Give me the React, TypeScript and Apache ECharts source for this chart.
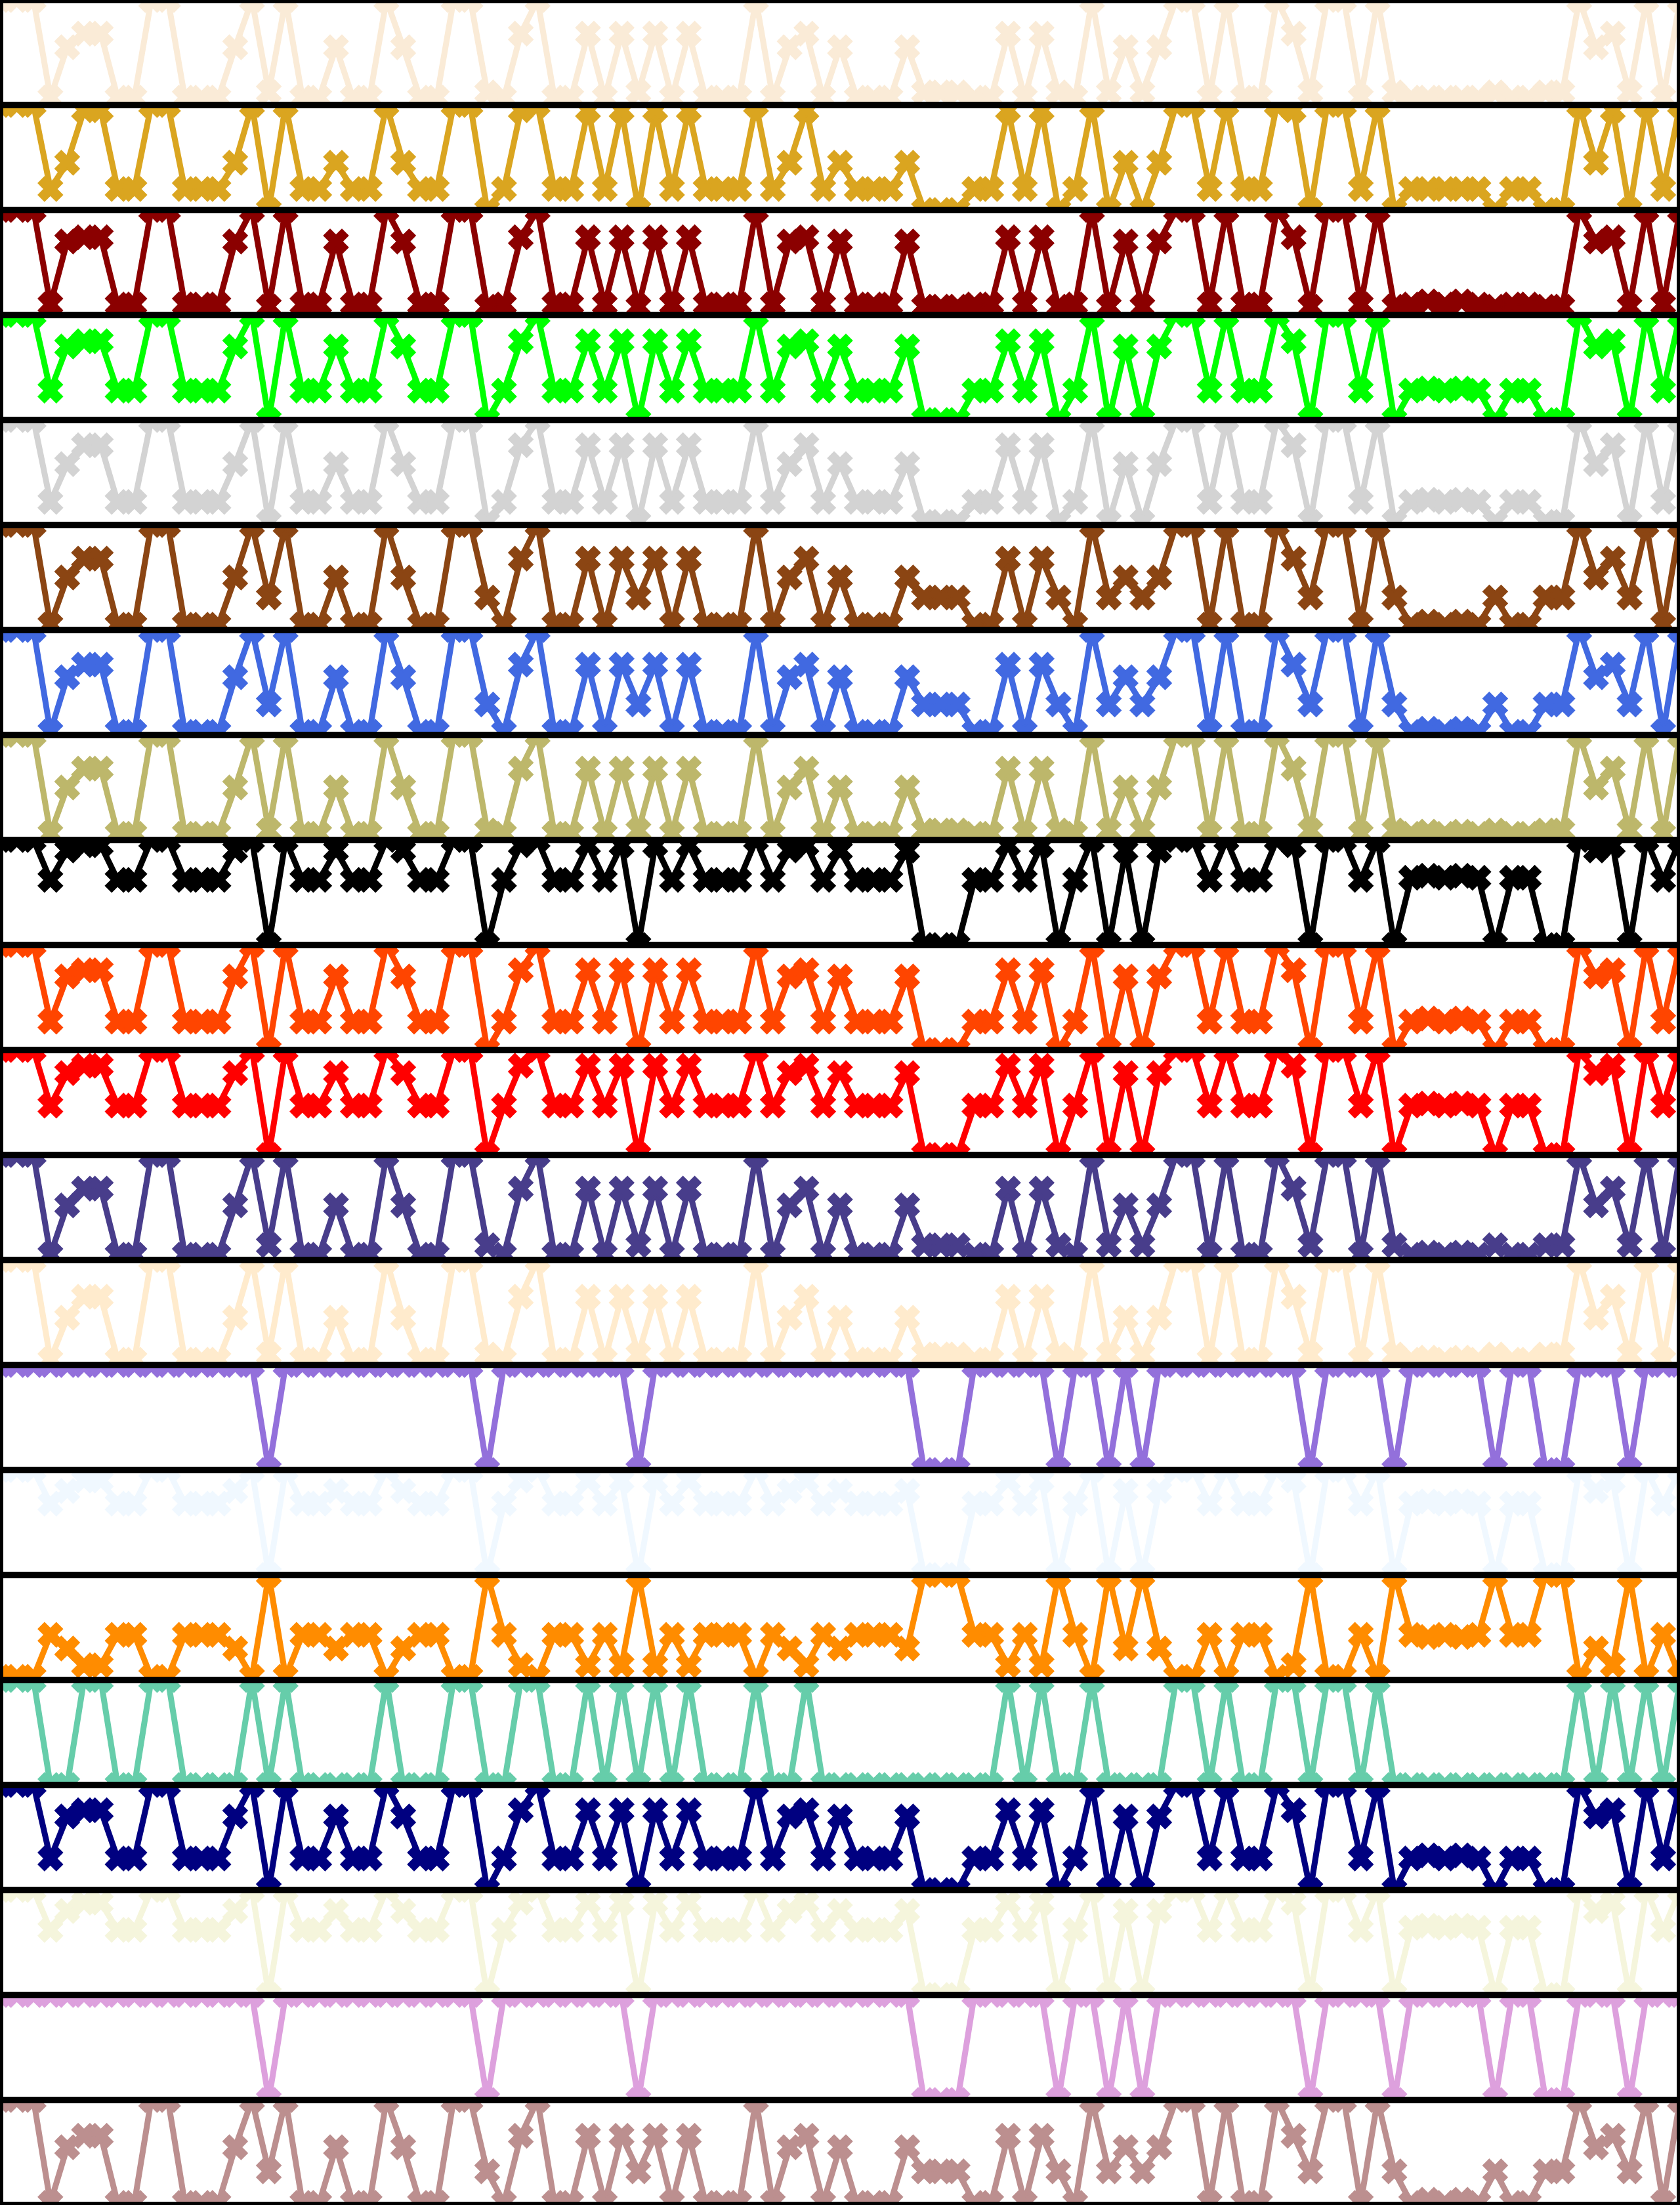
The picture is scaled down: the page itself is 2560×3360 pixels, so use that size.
import React, { useEffect, useRef } from "react";
import * as echarts from "echarts";

const X_INDEX = Array.from({ length: 101 }, (_, i) => i);

const COLORS = [
  "#FAEBD7", "#DAA520", "#8B0000", "#00FF00", "#D3D3D3", "#8B4513", "#4169E1",
  "#BDB76B", "#000000", "#FF4500", "#FF0000", "#483D8B", "#FFEBCD", "#9370DB",
  "#F0F8FF", "#FF8C00", "#66CDAA", "#000080", "#F5F5DC", "#DDA0DD", "#BC8F8F",
];

const s01 = [1,1,1,.07,.55,.68,.68,.07,.07,1, 1,.07,.07,.07,.55,1,.12,1,.07,.07, .55,.07,.07,1,.55,.07,.07,1,1,.12, .07,.68,1,.07,.07,.68,.07,.68,.12,.68, .07,.68,.07,.07,.07,1,.07,.55,.68,.07, .55,.07,.07,.07,.55,.12,.12,.12,.07,.07, .68,.07,.68,.12,.07,1,.12,.55,.12,.55, 1,1,.07,1,.07,.07,1,.68,.12,1, 1,.07,1,.12,.07,.07,.07,.07,.07,.12, .07,.07,.12,.12,1,.55,.68,.12,1,.07,1];
const s02 = [1,1,1,.2,.45,.95,.95,.2,.2,1, 1,.2,.2,.2,.45,1,0,1,.2,.2, .45,.2,.2,1,.45,.2,.2,1,1,0, .2,.95,1,.2,.2,.95,.2,.95,0,.95, .2,.95,.2,.2,.2,1,.2,.45,.95,.2, .45,.2,.2,.2,.45,0,0,0,.2,.2, .95,.2,.95,0,.2,1,0,.45,0,.45, 1,1,.2,1,.2,.2,1,.95,0,1, 1,.2,1,0,.2,.2,.2,.2,.2,0, .2,.2,0,0,1,.45,.95,0,1,.2,1];
const s03 = [1,1,1,.1,.7,.74,.74,.1,.1,1, 1,.1,.1,.1,.7,1,.08,1,.1,.1, .7,.1,.1,1,.7,.1,.1,1,1,.08, .1,.74,1,.1,.1,.74,.1,.74,.08,.74, .1,.74,.1,.1,.1,1,.1,.7,.74,.1, .7,.1,.1,.1,.7,.08,.08,.08,.1,.1, .74,.1,.74,.08,.1,1,.08,.7,.08,.7, 1,1,.1,1,.1,.1,1,.74,.08,1, 1,.1,1,.08,.1,.13,.1,.13,.1,.08, .1,.1,.08,.08,1,.7,.74,.08,1,.1,1];
const s04 = [1,1,1,.28,.7,.75,.75,.28,.28,1, 1,.28,.28,.28,.7,1,0,1,.28,.28, .7,.28,.28,1,.7,.28,.28,1,1,0, .28,.75,1,.28,.28,.75,.28,.75,0,.75, .28,.75,.28,.28,.28,1,.28,.7,.75,.28, .7,.28,.28,.28,.7,0,0,0,.28,.28, .75,.28,.75,0,.28,1,0,.7,0,.7, 1,1,.28,1,.28,.28,1,.75,0,1, 1,.28,1,0,.28,.3,.28,.3,.28,0, .28,.28,0,0,1,.7,.75,0,1,.28,1];
const s05 = [1,1,1,.22,.58,.76,.76,.22,.22,1, 1,.22,.22,.22,.58,1,.03,1,.22,.22, .58,.22,.22,1,.58,.22,.22,1,1,.03, .22,.76,1,.22,.22,.76,.22,.76,.03,.76, .22,.76,.22,.22,.22,1,.22,.58,.76,.22, .58,.22,.22,.22,.58,.03,.03,.03,.22,.22, .76,.22,.76,.03,.22,1,.03,.58,.03,.58, 1,1,.22,1,.22,.22,1,.76,.03,1, 1,.22,1,.03,.22,.24,.22,.24,.22,.03, .22,.22,.03,.03,1,.58,.76,.03,1,.22,1];
const s06 = [1,1,1,.05,.5,.68,.68,.05,.05,1, 1,.05,.05,.05,.5,1,.31,1,.05,.05, .5,.05,.05,1,.5,.05,.05,1,1,.31, .05,.68,1,.05,.05,.68,.05,.68,.31,.68, .05,.68,.05,.05,.05,1,.05,.5,.68,.05, .5,.05,.05,.05,.5,.31,.31,.31,.05,.05, .68,.05,.68,.31,.05,1,.31,.5,.31,.5, 1,1,.05,1,.05,.05,1,.68,.31,1, 1,.05,1,.31,.05,.08,.05,.08,.05,.31, .05,.05,.31,.31,1,.5,.68,.31,1,.05,1];
const s07 = [1,1,1,.03,.55,.67,.67,.03,.03,1, 1,.03,.03,.03,.55,1,.29,1,.03,.03, .55,.03,.03,1,.55,.03,.03,1,1,.29, .03,.67,1,.03,.03,.67,.03,.67,.29,.67, .03,.67,.03,.03,.03,1,.03,.55,.67,.03, .55,.03,.03,.03,.55,.29,.29,.29,.03,.03, .67,.03,.67,.29,.03,1,.29,.55,.29,.55, 1,1,.03,1,.03,.03,1,.67,.29,1, 1,.03,1,.29,.03,.06,.03,.06,.03,.29, .03,.03,.29,.29,1,.55,.67,.29,1,.03,1];
const s08 = [1,1,1,.06,.5,.68,.68,.06,.06,1, 1,.06,.06,.06,.5,1,.09,1,.06,.06, .5,.06,.06,1,.5,.06,.06,1,1,.09, .06,.68,1,.06,.06,.68,.06,.68,.09,.68, .06,.68,.06,.06,.06,1,.06,.5,.68,.06, .5,.06,.06,.06,.5,.09,.09,.09,.06,.06, .68,.06,.68,.09,.06,1,.09,.5,.09,.5, 1,1,.06,1,.06,.06,1,.68,.09,1, 1,.06,1,.09,.06,.08,.06,.08,.06,.09, .06,.06,.09,.09,1,.5,.68,.09,1,.06,1];
const s09 = [1,1,1,.62,.9,.95,.95,.62,.62,1, 1,.62,.62,.62,.9,1,0,1,.62,.62, .9,.62,.62,1,.9,.62,.62,1,1,0, .62,.95,1,.62,.62,.95,.62,.95,0,.95, .62,.95,.62,.62,.62,1,.62,.9,.95,.62, .9,.62,.62,.62,.9,0,0,0,.62,.62, .95,.62,.95,0,.62,1,0,.9,0,.9, 1,1,.62,1,.62,.62,1,.95,0,1, 1,.62,1,0,.64,.66,.64,.66,.64,0, .64,.64,0,0,1,.9,.95,0,1,.62,1];
const s10 = [1,1,1,.27,.7,.76,.76,.27,.27,1, 1,.27,.27,.27,.7,1,0,1,.27,.27, .7,.27,.27,1,.7,.27,.27,1,1,0, .27,.76,1,.27,.27,.76,.27,.76,0,.76, .27,.76,.27,.27,.27,1,.27,.7,.76,.27, .7,.27,.27,.27,.7,0,0,0,.27,.27, .76,.27,.76,0,.27,1,0,.7,0,.7, 1,1,.27,1,.27,.27,1,.76,0,1, 1,.27,1,0,.27,.3,.27,.3,.27,0, .27,.27,0,0,1,.7,.76,0,1,.27,1];
const s11 = [1,1,1,.47,.78,.85,.85,.47,.47,1, 1,.47,.47,.47,.78,1,0,1,.47,.47, .78,.47,.47,1,.78,.47,.47,1,1,0, .47,.85,1,.47,.47,.85,.47,.85,0,.85, .47,.85,.47,.47,.47,1,.47,.78,.85,.47, .78,.47,.47,.47,.78,0,0,0,.47,.47, .85,.47,.85,0,.47,1,0,.78,0,.78, 1,1,.47,1,.47,.47,1,.85,0,1, 1,.47,1,0,.47,.49,.47,.49,.47,0, .47,.47,0,0,1,.78,.85,0,1,.47,1];
const s12 = [1,1,1,.05,.52,.68,.68,.05,.05,1, 1,.05,.05,.05,.52,1,.14,1,.05,.05, .52,.05,.05,1,.52,.05,.05,1,1,.14, .05,.68,1,.05,.05,.68,.05,.68,.14,.68, .05,.68,.05,.05,.05,1,.05,.52,.68,.05, .52,.05,.05,.05,.52,.14,.14,.14,.05,.05, .68,.05,.68,.14,.05,1,.14,.52,.14,.52, 1,1,.05,1,.05,.05,1,.68,.14,1, 1,.05,1,.14,.05,.07,.05,.07,.05,.14, .05,.05,.14,.14,1,.52,.68,.14,1,.05,1];
const s13 = [1,1,1,.05,.45,.65,.65,.05,.05,1, 1,.05,.05,.05,.45,1,.1,1,.05,.05, .45,.05,.05,1,.45,.05,.05,1,1,.1, .05,.65,1,.05,.05,.65,.05,.65,.1,.65, .05,.65,.05,.05,.05,1,.05,.45,.65,.05, .45,.05,.05,.05,.45,.1,.1,.1,.05,.05, .65,.05,.65,.1,.05,1,.1,.45,.1,.45, 1,1,.05,1,.05,.05,1,.65,.1,1, 1,.05,1,.1,.05,.07,.05,.07,.05,.1, .05,.05,.1,.1,1,.45,.65,.1,1,.05,1];
const s14 = [1,1,1,1,1,1,1,1,1,1, 1,1,1,1,1,1,0,1,1,1, 1,1,1,1,1,1,1,1,1,0, 1,1,1,1,1,1,1,1,0,1, 1,1,1,1,1,1,1,1,1,1, 1,1,1,1,1,0,0,0,1,1, 1,1,1,0,1,1,0,1,0,1, 1,1,1,1,1,1,1,1,0,1, 1,1,1,0,1,1,1,1,1,0, 1,1,0,0,1,1,1,0,1,1,1];
const s15 = [1,1,1,.68,.8,.9,.9,.68,.68,1, 1,.68,.68,.68,.8,1,0,1,.68,.68, .8,.68,.68,1,.8,.68,.68,1,1,0, .68,.9,1,.68,.68,.9,.68,.9,0,.9, .68,.9,.68,.68,.68,1,.68,.8,.9,.68, .8,.68,.68,.68,.8,0,0,0,.68,.68, .9,.68,.9,0,.68,1,0,.8,0,.8, 1,1,.68,1,.68,.68,1,.9,0,1, 1,.68,1,0,.68,.7,.68,.7,.68,0, .68,.68,0,0,1,.8,.9,0,1,.68,1];
const s16 = [.03,.03,.03,.43,.3,.14,.14,.43,.43,.03, .03,.43,.43,.43,.3,.03,1,.03,.43,.43, .3,.43,.43,.03,.3,.43,.43,.03,.03,1, .43,.14,.03,.43,.43,.14,.43,.14,1,.14, .43,.14,.43,.43,.43,.03,.43,.3,.14,.43, .3,.43,.43,.43,.3,1,1,1,.43,.43, .14,.43,.14,1,.43,.03,1,.3,1,.3, .03,.03,.43,.03,.43,.43,.03,.14,1,.03, .03,.43,.03,1,.43,.41,.43,.41,.43,1, .43,.43,1,1,.03,.3,.14,1,.03,.43,.03];
const s17 = [1,1,1,0,0,1,1,0,0,1, 1,0,0,0,0,1,0,1,0,0, 0,0,0,1,0,0,0,1,1,0, 0,1,1,0,0,1,0,1,0,1, 0,1,0,0,0,1,0,0,1,0, 0,0,0,0,0,0,0,0,0,0, 1,0,1,0,0,1,0,0,0,0, 1,1,0,1,0,0,1,1,0,1, 1,0,1,0,0,0,0,0,0,0, 0,0,0,0,1,0,1,0,1,0,1];
const s18 = [1,1,1,.3,.7,.76,.76,.3,.3,1, 1,.3,.3,.3,.7,1,0,1,.3,.3, .7,.3,.3,1,.7,.3,.3,1,1,0, .3,.76,1,.3,.3,.76,.3,.76,0,.76, .3,.76,.3,.3,.3,1,.3,.7,.76,.3, .7,.3,.3,.3,.7,0,0,0,.3,.3, .76,.3,.76,0,.3,1,0,.7,0,.7, 1,1,.3,1,.3,.3,1,.76,0,1, 1,.3,1,0,.3,.33,.3,.33,.3,0, .3,.3,0,0,1,.7,.76,0,1,.3,1];
const s19 = [1,1,1,.62,.8,.88,.88,.62,.62,1, 1,.62,.62,.62,.8,1,0,1,.62,.62, .8,.62,.62,1,.8,.62,.62,1,1,0, .62,.88,1,.62,.62,.88,.62,.88,0,.88, .62,.88,.62,.62,.62,1,.62,.8,.88,.62, .8,.62,.62,.62,.8,0,0,0,.62,.62, .88,.62,.88,0,.62,1,0,.8,0,.8, 1,1,.62,1,.62,.62,1,.88,0,1, 1,.62,1,0,.64,.66,.64,.66,.64,0, .64,.64,0,0,1,.8,.88,0,1,.62,1];
const s20 = [1,1,1,1,1,1,1,1,1,1, 1,1,1,1,1,1,0,1,1,1, 1,1,1,1,1,1,1,1,1,0, 1,1,1,1,1,1,1,1,0,1, 1,1,1,1,1,1,1,1,1,1, 1,1,1,1,1,0,0,0,1,1, 1,1,1,0,1,1,0,1,0,1, 1,1,1,1,1,1,1,1,0,1, 1,1,1,0,1,1,1,1,1,0, 1,1,0,0,1,1,1,0,1,1,1];
const s21 = [1,1,1,.02,.55,.66,.66,.02,.02,1, 1,.02,.02,.02,.55,1,.32,1,.02,.02, .55,.02,.02,1,.55,.02,.02,1,1,.32, .02,.66,1,.02,.02,.66,.02,.66,.32,.66, .02,.66,.02,.02,.02,1,.02,.55,.66,.02, .55,.02,.02,.02,.55,.32,.32,.32,.02,.02, .66,.02,.66,.32,.02,1,.32,.55,.32,.55, 1,1,.02,1,.02,.02,1,.66,.32,1, 1,.02,1,.32,.02,.05,.02,.05,.02,.32, .02,.02,.32,.32,1,.55,.66,.32,1,.02,1];

const SERIES = [s01, s02, s03, s04, s05, s06, s07, s08, s09, s10, s11, s12, s13, s14, s15, s16, s17, s18, s19, s20, s21];

const X_MARK = "path://M1,0L2,1L3,0L4,1L3,2L4,3L3,4L2,3L1,4L0,3L1,2L0,1Z";
const W = 2560;
const H = 160;

function Panel({ values, color }: { values: number[]; color: string }) {
  const ref = useRef<HTMLDivElement>(null);
  useEffect(() => {
    const chart = echarts.init(ref.current!, null, { renderer: "svg" });
    chart.setOption({
      animation: false,
      grid: { left: 0, right: 0, top: 0, bottom: 0, containLabel: false },
      xAxis: { type: "value", min: 0, max: 100, show: false },
      yAxis: { type: "value", min: 0, max: 1, show: false },
      series: [
        {
          type: "line",
          data: values.map((v, i) => [X_INDEX[i], v]),
          symbol: X_MARK,
          symbolSize: 36,
          showAllSymbol: true,
          clip: false,
          lineStyle: { color, width: 9 },
          itemStyle: { color, borderColor: color, borderWidth: 2.5 },
          z: 2,
        },
      ],
      graphic: [
        {
          type: "rect",
          z: 100,
          shape: { x: 0, y: 0, width: W, height: H },
          style: { fill: "none", stroke: "#000", lineWidth: 10 },
        },
      ],
    });
    return () => chart.dispose();
  }, [values, color]);
  return <div ref={ref} style={{ width: W, height: H, overflow: "hidden" }} />;
}

export default function App() {
  useEffect(() => {
    document.body.style.margin = "0";
  }, []);
  return (
    <div style={{ width: W, height: H * 21, background: "#fff" }}>
      {SERIES.map((vals, k) => (
        <Panel key={k} values={vals} color={COLORS[k]} />
      ))}
    </div>
  );
}
